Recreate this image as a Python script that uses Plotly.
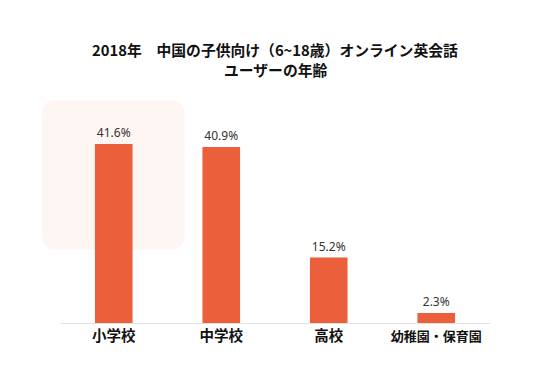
import plotly.graph_objects as go

categories = ["小学校", "中学校", "高校", "幼稚園・保育園"]
values = [41.6, 40.9, 15.2, 2.3]
labels = ["41.6%", "40.9%", "15.2%", "2.3%"]
tick_text = ["<b>小学校</b>", "<b>中学校</b>", "<b>高校</b>",
             "<b><span style='font-size:13px'>幼稚園・保育園</span></b>"]

title_line1 = "<b>2018年　中国の子供向け（6~18歳）オンライン英会話</b>"
title_line2 = "<b>ユーザーの年齢</b>"

fig = go.Figure()
fig.add_trace(go.Bar(
    x=categories, y=values, text=labels, textposition="outside",
    marker=dict(color="#EC5F3B", line=dict(width=0)),
    textfont=dict(size=12, color="#333333", family="Noto Sans, Arial"),
    cliponaxis=False,
))

# faint watermark block with rounded corners (paper coords)
x0, x1, y0, y1, rx, ry = -0.042, 0.29, 0.33, 1.0, 0.035, 0.067
path = (f"M {x0+rx},{y0} L {x1-rx},{y0} Q {x1},{y0} {x1},{y0+ry} "
        f"L {x1},{y1-ry} Q {x1},{y1} {x1-rx},{y1} L {x0+rx},{y1} "
        f"Q {x0},{y1} {x0},{y1-ry} L {x0},{y0+ry} Q {x0},{y0} {x0+rx},{y0} Z")
fig.add_shape(type="path", path=path, xref="paper", yref="paper",
              fillcolor="rgba(236,95,59,0.06)", line=dict(width=0), layer="below")

title_font = dict(size=14.8, color="#111111", family="Noto Sans CJK JP")
fig.add_annotation(text=title_line1, xref="paper", yref="paper", x=0.5, y=1.0,
                   yshift=50.5, xanchor="center", yanchor="middle", showarrow=False,
                   font=title_font)
fig.add_annotation(text=title_line2, xref="paper", yref="paper", x=0.5, y=1.0,
                   yshift=30.5, xanchor="center", yanchor="middle", showarrow=False,
                   font=title_font)

fig.update_layout(
    width=540, height=365,
    margin=dict(l=52, r=58, t=92, b=50),
    paper_bgcolor="white", plot_bgcolor="white",
    bargap=0.65,
    showlegend=False,
    xaxis=dict(showline=True, linecolor="#E3E3E3", linewidth=1, ticks="",
               tickmode="array", tickvals=categories, ticktext=tick_text,
               tickfont=dict(size=14.5, color="#111111", family="Noto Sans CJK JP"),
               showgrid=False),
    yaxis=dict(range=[0, 51.8], visible=False, showgrid=False, zeroline=False),
)

fig.write_html("out.html")
